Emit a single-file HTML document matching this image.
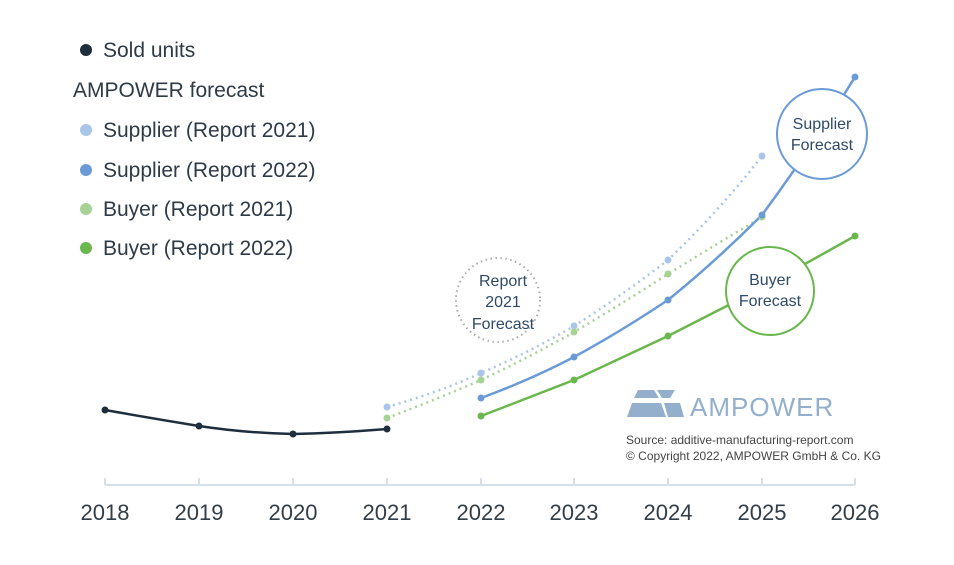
<!DOCTYPE html>
<html><head><style>body{margin:0;background:#fff}svg{display:block}text{font-family:"Liberation Sans",sans-serif}</style></head><body>
<svg width="954" height="565" viewBox="0 0 954 565">
<g font-size="21" fill="#2e3a46">
<circle cx="86" cy="50" r="6" fill="#1f2e3d"/><text x="103" y="57">Sold units</text>
<text x="73" y="97">AMPOWER forecast</text>
<circle cx="86" cy="130" r="6" fill="#a9c6e8"/><text x="103" y="137">Supplier (Report 2021)</text>
<circle cx="86" cy="170" r="6" fill="#6b9bd6"/><text x="103" y="177">Supplier (Report 2022)</text>
<circle cx="86" cy="209" r="6" fill="#a6d395"/><text x="103" y="216">Buyer (Report 2021)</text>
<circle cx="86" cy="248" r="6" fill="#6ab74e"/><text x="103" y="255">Buyer (Report 2022)</text>
</g>
<path d="M105 485H855" stroke="#d5dfea" stroke-width="2"/>
<g stroke="#d5dfea" stroke-width="2"><path d="M105 478v7M199 478v7M293 478v7M387 478v7M481 478v7M574 478v7M668 478v7M762 478v7M855 478v7"/></g>
<g font-size="22" fill="#333d47" text-anchor="middle">
<text x="105" y="520">2018</text><text x="199" y="520">2019</text><text x="293" y="520">2020</text><text x="387" y="520">2021</text><text x="481" y="520">2022</text><text x="574" y="520">2023</text><text x="668" y="520">2024</text><text x="762" y="520">2025</text><text x="855" y="520">2026</text></g>
<circle cx="498" cy="300" r="42" fill="none" stroke="#aaa" stroke-width="2" stroke-dasharray="1.5 3.5"/>
<g font-size="16" fill="#2e4a66" text-anchor="middle"><text x="503" y="286">Report</text><text x="503" y="307">2021</text><text x="503" y="329">Forecast</text></g>
<path d="M387 407 Q440 392 481 373 Q530 352 574 326 Q620 297 668 260 Q720 210 762 156" fill="none" stroke="#a9c6e8" stroke-width="2.5" stroke-dasharray="2 4"/>
<path d="M387 418 Q440 398 481 380 Q530 357 574 332 Q620 305 668 274 Q720 242 762 217" fill="none" stroke="#a6d395" stroke-width="2.5" stroke-dasharray="2 4"/>
<path d="M105 410 Q150 418 199 426 Q245 433 293 434 Q340 433 387 429" fill="none" stroke="#1f2e3d" stroke-width="2.5"/>
<path d="M481 398 Q530 380 574 357 Q620 332 668 300 Q715 262 762 215 Q810 150 855 77" fill="none" stroke="#6b9bd6" stroke-width="2.5"/>
<path d="M481 416 L574 380 L668 336 L762 288 L855 236" fill="none" stroke="#6ab74e" stroke-width="2.5"/>
<g fill="#1f2e3d"><circle cx="105" cy="410" r="3.5"/><circle cx="199" cy="426" r="3.5"/><circle cx="293" cy="434" r="3.5"/><circle cx="387" cy="429" r="3.5"/></g>
<g fill="#a9c6e8"><circle cx="387" cy="407" r="3.5"/><circle cx="481" cy="373" r="3.5"/><circle cx="574" cy="326" r="3.5"/><circle cx="668" cy="260" r="3.5"/><circle cx="762" cy="156" r="3.5"/></g>
<g fill="#a6d395"><circle cx="387" cy="418" r="3.5"/><circle cx="481" cy="380" r="3.5"/><circle cx="574" cy="332" r="3.5"/><circle cx="668" cy="274" r="3.5"/><circle cx="762" cy="217" r="3.5"/></g>
<g fill="#6b9bd6"><circle cx="481" cy="398" r="3.5"/><circle cx="574" cy="357" r="3.5"/><circle cx="668" cy="300" r="3.5"/><circle cx="762" cy="215" r="3.5"/><circle cx="855" cy="77" r="3.5"/></g>
<g fill="#6ab74e"><circle cx="481" cy="416" r="3.5"/><circle cx="574" cy="380" r="3.5"/><circle cx="668" cy="336" r="3.5"/><circle cx="855" cy="236" r="3.5"/></g>
<circle cx="822" cy="134" r="45" fill="#fff" stroke="#6b9bd6" stroke-width="2"/>
<g font-size="16" fill="#2e4a66" text-anchor="middle"><text x="822" y="129">Supplier</text><text x="822" y="150">Forecast</text></g>
<circle cx="770" cy="291" r="44" fill="#fff" stroke="#6ab74e" stroke-width="2"/>
<g font-size="16" fill="#2e4a66" text-anchor="middle"><text x="770" y="285">Buyer</text><text x="770" y="306">Forecast</text></g>
<g fill="#94afcc"><path d="M638 390h16l5 8h-25zM657 390h18l-5 8h-8zM632 403h29l5 14h-39zM664 403h16l4 14h-16z"/></g>
<text x="690" y="416" font-size="26" fill="#94afcc" letter-spacing="1">AMPOWER</text>
<g font-size="12" fill="#444"><text x="626" y="444">Source: additive-manufacturing-report.com</text><text x="626" y="460">© Copyright 2022, AMPOWER GmbH &amp; Co. KG</text></g>
</svg>
</body></html>
